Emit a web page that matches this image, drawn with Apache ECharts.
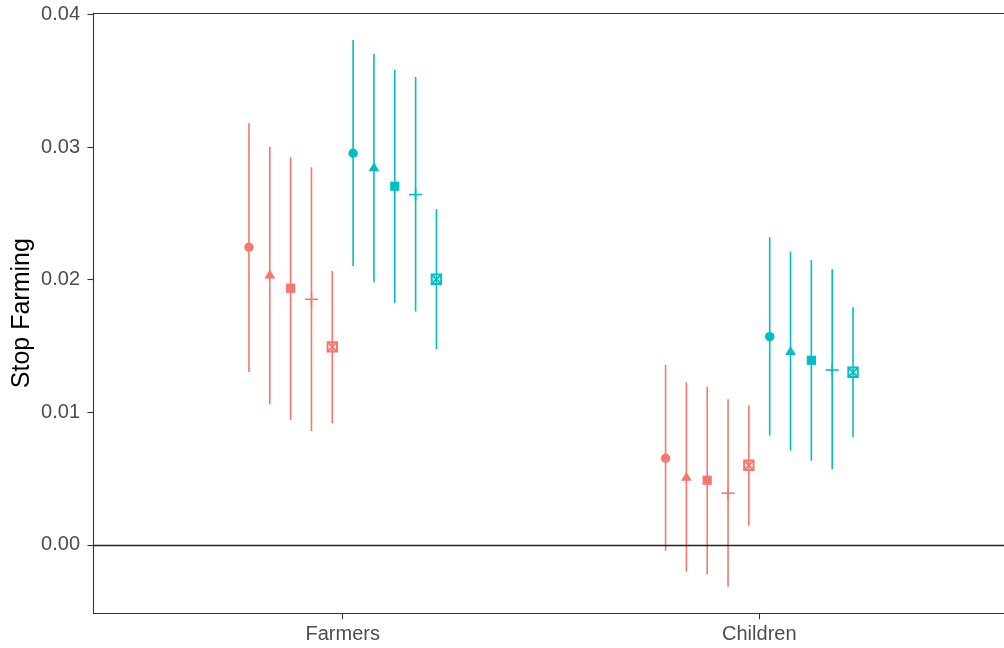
<!DOCTYPE html>
<html><head><meta charset="utf-8">
<script src="https://cdn.jsdelivr.net/npm/echarts@6/dist/echarts.min.js"></script>
<style>html,body{margin:0;padding:0;background:#fff}#c{width:1004px;height:648px}</style>
</head><body><div id="c"></div>
<script>
// ---- data ----
const categories = ['Farmers', 'Children'];
const shapes = ['circle', 'triangle', 'square', 'plus', 'squareCross'];
const yTicks = [0, 0.01, 0.02, 0.03, 0.04];
// red group: 5 models for Farmers, then 5 for Children
const redEstimate = [0.02244, 0.02032, 0.01935, 0.01852, 0.01493, 0.00654, 0.00507, 0.00488, 0.00390, 0.00601];
const redLower    = [0.01304, 0.01061, 0.00942, 0.00859, 0.00917, -0.00045, -0.00201, -0.00221, -0.00314, 0.00145];
const redUpper    = [0.03179, 0.03002, 0.02923, 0.02847, 0.02065, 0.01357, 0.01226, 0.01193, 0.01098, 0.01053];
// teal group
const tealEstimate = [0.02953, 0.02840, 0.02704, 0.02641, 0.02003, 0.01570, 0.01455, 0.01392, 0.01319, 0.01302];
const tealLower    = [0.02103, 0.01980, 0.01826, 0.01759, 0.01475, 0.00824, 0.00711, 0.00635, 0.00571, 0.00812];
const tealUpper    = [0.03807, 0.03701, 0.03581, 0.03528, 0.02531, 0.02319, 0.02211, 0.02148, 0.02078, 0.01792];

const RED = '#F8766D', TEAL = '#00BFC4';
const DODGE = 0.5, SLOTS = 10;

function build(est, lo, hi, groupIndex) {
  return est.map((v, i) => {
    const cat = Math.floor(i / 5), model = i % 5;
    const slot = groupIndex * 5 + model;
    const x = cat + 1 - DODGE / 2 + DODGE / SLOTS * (slot + 0.5);
    return [x, v, lo[i], hi[i], model];
  });
}

function renderItem(color) {
  return function (params, api) {
    const x = api.value(0), y = api.value(1), lo = api.value(2), hi = api.value(3), s = api.value(4);
    const p = api.coord([x, y]), pl = api.coord([x, lo]), ph = api.coord([x, hi]);
    const cx = p[0], cy = p[1];
    const lw = 1.6;
    const kids = [{
      type: 'line', shape: {x1: cx, y1: ph[1], x2: cx, y2: pl[1]},
      style: {stroke: color, lineWidth: lw}
    }];
    const kind = shapes[s];
    if (kind === 'circle') {
      kids.push({type: 'circle', shape: {cx: cx, cy: cy, r: 4.7}, style: {fill: color}});
    } else if (kind === 'triangle') {
      const h = 9, w = 5.4;
      kids.push({type: 'polygon', shape: {points: [[cx, cy - h * 2 / 3], [cx + w, cy + h / 3], [cx - w, cy + h / 3]]}, style: {fill: color}});
    } else if (kind === 'square') {
      const a = 4.6;
      kids.push({type: 'rect', shape: {x: cx - a, y: cy - a, width: 2 * a, height: 2 * a}, style: {fill: color}});
    } else if (kind === 'plus') {
      const a = 6.6;
      kids.push({type: 'line', shape: {x1: cx - a, y1: cy, x2: cx + a, y2: cy}, style: {stroke: color, lineWidth: lw}});
      kids.push({type: 'line', shape: {x1: cx, y1: cy - a, x2: cx, y2: cy + a}, style: {stroke: color, lineWidth: lw}});
    } else {
      const a = 4.7;
      kids.push({type: 'rect', shape: {x: cx - a, y: cy - a, width: 2 * a, height: 2 * a}, style: {fill: null, stroke: color, lineWidth: 2}});
      kids.push({type: 'line', shape: {x1: cx - a, y1: cy - a, x2: cx + a, y2: cy + a}, style: {stroke: color, lineWidth: 1.8}});
      kids.push({type: 'line', shape: {x1: cx - a, y1: cy + a, x2: cx + a, y2: cy - a}, style: {stroke: color, lineWidth: 1.8}});
    }
    return {type: 'group', children: kids};
  };
}

const chart = echarts.init(document.getElementById('c'), null, {renderer: 'canvas'});
const axisColor = '#333333';
const X_MIN = 0.4018, X_MAX = 2.5874;
chart.setOption({
  animation: false,
  backgroundColor: '#ffffff',
  textStyle: {fontFamily: 'Liberation Sans, Arial, Helvetica, sans-serif'},
  grid: {left: 93.5, right: 0, top: 13, bottom: 34.7, containLabel: false, outerBoundsMode: 'none'},
  xAxis: [{
    type: 'value', min: X_MIN, max: X_MAX, position: 'bottom',
    axisLine: {show: true, onZero: false, lineStyle: {color: axisColor, width: 1.1}},
    axisTick: {show: true, customValues: [1, 2], length: 6, lineStyle: {color: axisColor, width: 1.1}},
    axisLabel: {customValues: [1, 2], formatter: v => categories[Math.round(v) - 1], fontSize: 20, color: '#4d4d4d', margin: 11},
    splitLine: {show: false}
  }, {
    type: 'value', min: X_MIN, max: X_MAX, position: 'top',
    axisLine: {show: true, onZero: false, lineStyle: {color: axisColor, width: 1.1}},
    axisTick: {show: false}, axisLabel: {show: false}, splitLine: {show: false}
  }],
  yAxis: {
    type: 'value', min: -0.00515, max: 0.0401,
    axisLine: {show: true, onZero: false, lineStyle: {color: axisColor, width: 1.1}},
    axisTick: {show: true, customValues: yTicks, length: 6, lineStyle: {color: axisColor, width: 1.1}},
    axisLabel: {customValues: yTicks, formatter: v => v.toFixed(2), fontSize: 20, color: '#4d4d4d', margin: 13.5},
    splitLine: {show: false},
    name: 'Stop Farming', nameLocation: 'middle', nameGap: 59, nameMoveOverlap: false,
    nameTextStyle: {fontSize: 25, color: '#000000'}
  },
  series: [{
    type: 'custom', name: 'red', renderItem: renderItem(RED),
    data: build(redEstimate, redLower, redUpper, 0), encode: {x: 0, y: [1, 2, 3]},
    markLine: {silent: true, symbol: 'none', label: {show: false},
      lineStyle: {color: '#222222', width: 1.4, type: 'solid'}, data: [{yAxis: 0}]}
  }, {
    type: 'custom', name: 'teal', renderItem: renderItem(TEAL),
    data: build(tealEstimate, tealLower, tealUpper, 1), encode: {x: 0, y: [1, 2, 3]}
  }]
});
</script></body></html>
